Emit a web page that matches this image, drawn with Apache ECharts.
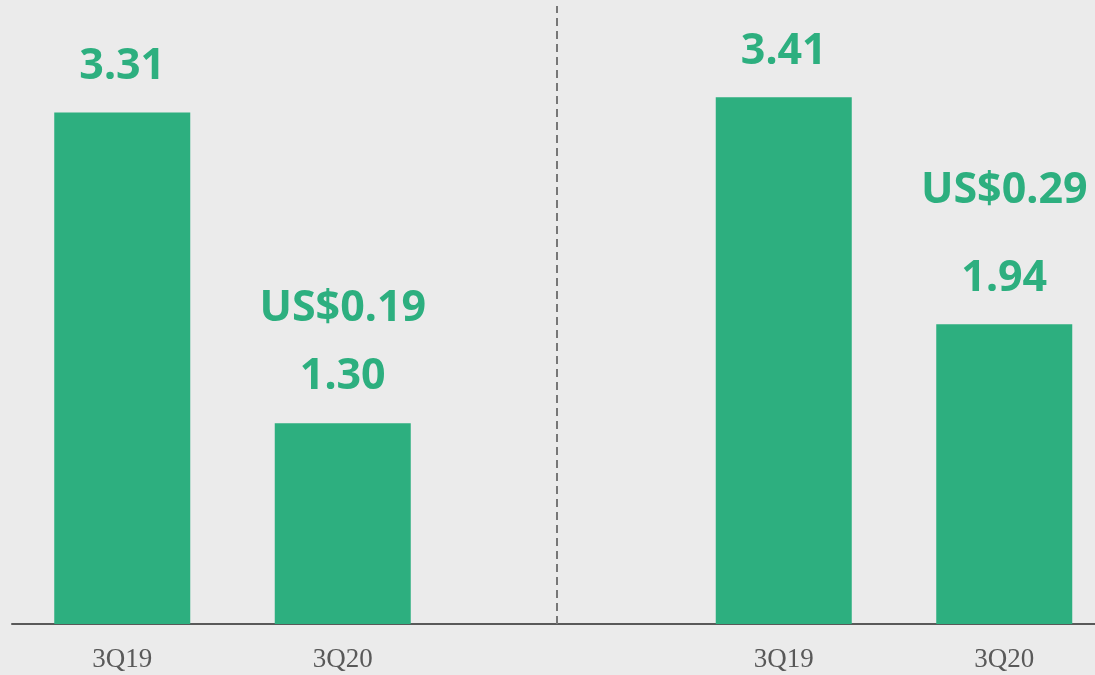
<!DOCTYPE html>
<html>
<head>
<meta charset="utf-8">
<script src="https://cdn.jsdelivr.net/npm/echarts@6/dist/echarts.min.js"></script>
<style>
  html, body { margin: 0; padding: 0; background: #ebebeb; }
  #chart { width: 1095px; height: 675px; }
</style>
</head>
<body>
<div id="chart"></div>
<script>
// two panels share one axis; the empty slot in the middle holds the divider
const categories = ["3Q19", "3Q20", "", "3Q19", "3Q20"];
const values = [3.31, 1.3, null, 3.41, 1.94];
const perShare = [null, "US$0.19", null, null, "US$0.29"];
const dividerAt = 2.47; // in category units

const green = "#2daf7f";

const chart = echarts.init(document.getElementById("chart"));

const barData = values.map((v, i) => {
  if (v === null) return "-";
  const item = { value: v };
  if (perShare[i]) {
    item.label = {
      formatter: "{a|" + perShare[i] + "}\n{b|" + v.toFixed(2) + "}",
      rich: {
        a: { lineHeight: i === 1 ? 92 : 132 },
      },
    };
  }
  return item;
});

const labelFont = { color: green, fontFamily: "Noto Sans", fontWeight: "bold", fontSize: 43 };

chart.setOption({
  backgroundColor: "#ebebeb",
  animation: false,
  grid: { left: 12, right: -19.5, top: 6, bottom: 51, outerBoundsMode: "none", containLabel: false },
  xAxis: [
    {
      type: "category",
      data: categories,
      axisLine: { lineStyle: { color: "#595959", width: 2 } },
      axisTick: { show: false },
      axisLabel: {
        color: "#595959",
        fontFamily: "Liberation Serif",
        fontSize: 27,
        margin: 22,
      },
    },
    { type: "value", min: 0, max: 5, show: false },
  ],
  yAxis: { type: "value", min: 0, max: 4, show: false },
  series: [
    {
      type: "bar",
      data: barData,
      barWidth: 136,
      itemStyle: { color: green },
      label: Object.assign({
        show: true,
        position: "top",
        distance: 24,
        formatter: (p) => p.value.toFixed(2),
        rich: {
          a: Object.assign({}, labelFont),
          b: Object.assign({ lineHeight: 44 }, labelFont),
        },
      }, labelFont),
    },
    {
      type: "line",
      xAxisIndex: 1,
      data: [],
      markLine: {
        symbol: "none",
        silent: true,
        label: { show: false },
        lineStyle: { color: "#777777", type: [8, 5], width: 2 },
        data: [{ xAxis: dividerAt }],
      },
    },
  ],
});
</script>
</body>
</html>
